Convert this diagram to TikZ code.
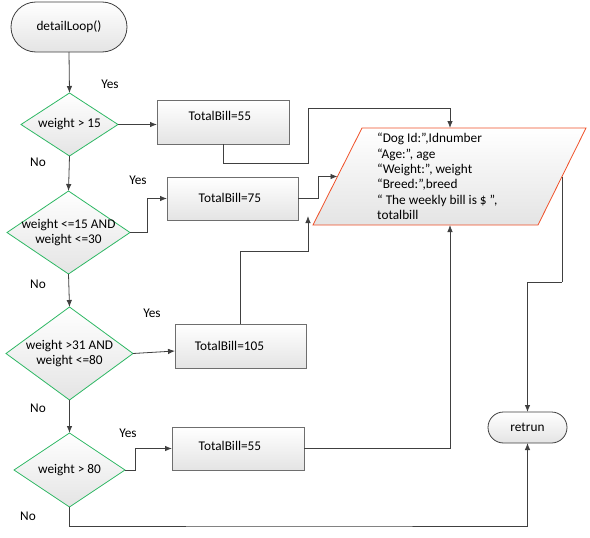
\documentclass[tikz,border=0pt]{standalone}
\usepackage{fontspec}
\setmainfont{Carlito}
\usetikzlibrary{shapes.geometric,arrows.meta,shadows,calc}
\definecolor{linec}{RGB}{64,64,64}
\definecolor{boxc}{RGB}{110,110,110}
\definecolor{diac}{RGB}{46,184,100}
\definecolor{redc}{RGB}{240,80,40}
\definecolor{fillb}{RGB}{228,228,228}
\tikzset{
  arr/.style={draw=linec, line width=0.8pt, -{Latex[length=7pt,width=5.5pt]}},
  ln/.style={draw=linec, line width=0.8pt},
  term/.style={draw=linec, line width=0.8pt, top color=white, bottom color=fillb, inner sep=0pt, outer sep=0pt},
  box/.style={draw=boxc, line width=0.8pt, top color=white, bottom color=fillb, inner sep=0pt, outer sep=0pt,
     drop shadow={shadow xshift=1.2pt, shadow yshift=-1.2pt, opacity=0.3}},
  dia/.style={diamond, draw=diac, line width=0.8pt, top color=white, bottom color=fillb, inner sep=0pt, outer sep=0pt},
  para/.style={draw=redc, line width=0.8pt, top color=white, bottom color=fillb},
  txt/.style={font=\fontsize{13.3}{15.4}\selectfont, inner sep=0pt, align=center},
  lbl/.style={font=\fontsize{13.3}{15}\selectfont, inner sep=0pt},
}
\begin{document}
\begin{tikzpicture}[x=1pt,y=-1pt]
\useasboundingbox (0,0) rectangle (590,538);
\fill[white] (0,0) rectangle (590,538);

% start terminal
\node[term, rounded corners=25pt, minimum width=116pt, minimum height=50pt] (start) at (69,27) {};
\node[txt] (tstart) at (69,27) {detailLoop()};

% diamonds
\node[dia, minimum width=97pt, minimum height=63pt] (d1) at (69.5,124.5) {};
\node[txt] (td1) at (69.5,124.5) {weight > 15};
\node[dia, minimum width=123pt, minimum height=83pt] (d2) at (68.5,232.5) {};
\node[txt] (td2) at (68.5,232.5) {weight <=15 AND\\weight <=30};
\node[dia, minimum width=127pt, minimum height=93pt] (d3) at (69.5,353.5) {};
\node[txt] (td3) at (69.5,353.5) {weight >31 AND\\weight <=80};
\node[dia, minimum width=111pt, minimum height=74pt] (d4) at (69.5,470) {};
\node[txt] (td4) at (69.5,470) {weight > 80};

% boxes
\node[box, minimum width=132pt, minimum height=44pt] (b1) at (223,122) {};
\node[txt] (tb1) at (220,116) {TotalBill=55};
\node[box, minimum width=131pt, minimum height=43pt] (b2) at (232.5,198.5) {};
\node[txt] (tb2) at (230,198) {TotalBill=75};
\node[box, minimum width=131pt, minimum height=44pt] (b3) at (240.5,346) {};
\node[txt] (tb3) at (229.5,346) {TotalBill=105};
\node[box, minimum width=132pt, minimum height=43pt] (b4) at (238,448.5) {};
\node[txt] (tb4) at (230,446) {TotalBill=55};

% output parallelogram
\path[para] (362,128) -- (586,128) -- (538,225) -- (313,225) -- cycle;
\coordinate (outN) at (450,128);
\coordinate (outS) at (450,225);
\coordinate (outW) at (337.5,176.5);
\coordinate (outE) at (562,176.5);
\node[txt, align=left, anchor=west] (tout) at (377,176.5)
  {“Dog Id:”,Idnumber\\“Age:”, age\\“Weight:”, weight\\“Breed:”,breed\\“ The weekly bill is \$ ”,\\totalbill};

% return terminal
\node[term, rounded corners=15.5pt, minimum width=79pt, minimum height=31pt] (ret) at (527.5,427.5) {};
\node[txt] (tret) at (527.5,427.5) {retrun};

% labels
\node[lbl] (y1) at (110,84) {Yes};
\node[lbl] (n1) at (38,162) {No};
\node[lbl] (y2) at (138,180) {Yes};
\node[lbl] (n2) at (38,284) {No};
\node[lbl] (y3) at (152,313) {Yes};
\node[lbl] (n3) at (38,408) {No};
\node[lbl] (y4) at (128,433) {Yes};
\node[lbl] (n4) at (28,516) {No};

% helper coordinates
\coordinate (c1a) at (308,163);
\coordinate (c1b) at (308,108);
\coordinate (c3a) at (308,251);
\coordinate (c3b) at (308,216);
\coordinate (c4) at (300,526);
\coordinate (c5) at (562,282);

% connectors
\draw[arr] (start.south) -- (d1.north);
\draw[arr] (d1.east) -- (d1.east -| b1.west);
\draw[arr] (b1.south) |- (c1a) -- (c1b) -| (outN);
\draw[arr] (d1.south) -- (d2.north);
\draw[arr] (d2.east) -- ++(17,0) |- (b2.west);
\draw[arr] (b2.east) -- ++(20,0) |- (outW);
\draw[arr] (d2.south) -- (d3.north);
\draw[arr] (d3.east) -- ([yshift=-5pt]b3.west);
\draw[arr] (b3.north) |- (c3a) -- (c3b);
\draw[arr] (d3.south) -- (d4.north);
\draw[arr] (d4.east) -- ++(10,0) |- (b4.west);
\draw[arr] (b4.east) -| (outS);
\draw[arr] (d4.south) |- (c4) -| (ret.south);
\draw[ln] (outE) -- (c5);
\draw[arr] (c5) -| (ret.north);
\end{tikzpicture}
\end{document}
